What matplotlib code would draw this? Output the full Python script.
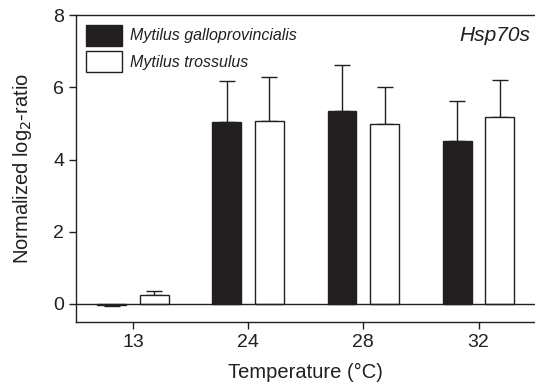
import numpy as np
import matplotlib.pyplot as plt

plt.rcParams['font.family'] = ['Liberation Sans', 'DejaVu Sans']

temps = ['13', '24', '28', '32']
gallo = [-0.04, 5.04, 5.34, 4.50]
gallo_err = [0.03, 1.14, 1.29, 1.12]
tross = [0.25, 5.07, 4.99, 5.17]
tross_err = [0.10, 1.21, 1.03, 1.03]

DARK = '#231f20'

fig = plt.figure(figsize=(5.35, 3.87), dpi=100)
ax = fig.add_axes([0.142, 0.168, 0.858, 0.793])

x = np.arange(len(temps))
w = 0.25
off = 0.185


def upper_only(vals, errs):
    # error bars only point away from zero
    lo = [e if v < 0 else 0 for v, e in zip(vals, errs)]
    hi = [0 if v < 0 else e for v, e in zip(vals, errs)]
    return [lo, hi]


ax.bar(x - off, gallo, w, color=DARK, edgecolor=DARK, linewidth=1, zorder=3,
       label='Mytilus galloprovincialis')
ax.bar(x + off, tross, w, color='white', edgecolor=DARK, linewidth=1, zorder=3,
       label='Mytilus trossulus')
ax.errorbar(x - off, gallo, yerr=upper_only(gallo, gallo_err), fmt='none',
            ecolor=DARK, elinewidth=1, capsize=5.5, capthick=1, zorder=2)
ax.errorbar(x + off, tross, yerr=upper_only(tross, tross_err), fmt='none',
            ecolor=DARK, elinewidth=1, capsize=5.5, capthick=1, zorder=2)

ax.axhline(0, color=DARK, linewidth=1, zorder=4)

ax.set_xlim(-0.494, 3.49)
ax.set_ylim(-0.5, 8)
ax.set_xticks(x)
ax.set_xticklabels(temps)
ax.set_yticks([0, 2, 4, 6, 8])
ax.tick_params(direction='out', length=5, width=1, color=DARK, labelsize=14,
               labelcolor=DARK)
for s in ['top', 'left', 'bottom']:
    ax.spines[s].set_color(DARK)
    ax.spines[s].set_linewidth(1)
ax.spines['right'].set_visible(False)

ax.set_xlabel('Temperature (°C)', fontsize=14.5, labelpad=9, color=DARK)
ax.set_ylabel('Normalized log$_2$-ratio', fontsize=14.5, labelpad=14, color=DARK)

ax.text(0.99, 0.965, 'Hsp70s', transform=ax.transAxes, ha='right', va='top',
        fontsize=15, style='italic', color=DARK)

leg = ax.legend(loc='upper left', frameon=False,
                prop={'style': 'italic', 'size': 11.5},
                handlelength=2.3, handleheight=1.65, handletextpad=0.5,
                labelspacing=0.35, borderaxespad=0.2, bbox_to_anchor=(0.0, 1.0))
for t in leg.get_texts():
    t.set_color(DARK)

fig.savefig('out.png', dpi=100)
